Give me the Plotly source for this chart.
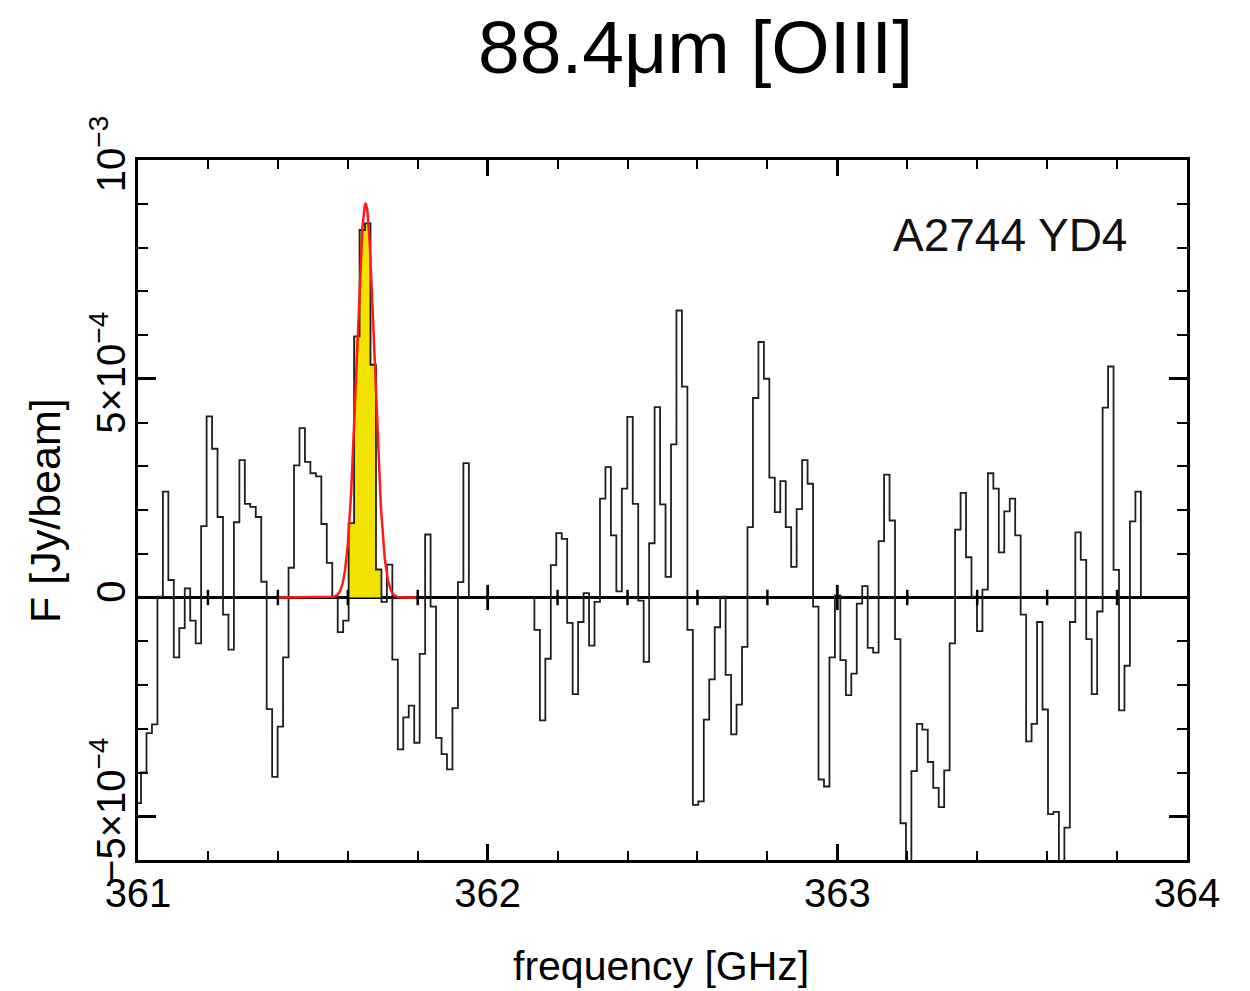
import numpy as np
import plotly.graph_objects as go

# ---------------- data (flux in units of 1e-4 Jy/beam) ----------------
chan_width = 0.015625          # GHz
spw1_first_edge = 360.99305    # left edge of first channel of window 1 (GHz)
spw1_flux = [
    -4.7, -4.0, -3.1, -2.9, 0.02, 2.42, 0.4, -1.37, -0.7, 0.21,
    -0.53, -1.05, 1.63, 4.14, 3.4, 1.84, -0.39, -1.19, 1.72, 3.14,
    2.14, 2.07, 1.84, 0.36, -2.55, -4.1, -2.95, -1.37, 0.68, 3.02,
    3.87, 3.1, 2.84, 2.77, 1.68, 0.79, 0.02, -0.79, -0.53, 1.7,
    5.97, 8.4, 8.55, 5.32, 0.64, -0.1, 0.75, -1.42, -3.47, -2.74,
    -2.47, -3.32, -1.29, 1.44, -0.21, -3.21, -3.58, -3.93, -2.53, 0.35,
    3.07,
]
spw2_first_edge = 362.13368    # left edge of first channel of window 2 (GHz)
spw2_flux = [
    -0.74, -2.81, -1.4, 0.74, 1.47, 1.34, -0.58, -2.21, -0.56, 0.1,
    -1.1, -0.1, 2.26, 2.98, 1.42, 0.14, 2.49, 4.13, 2.14, -0.07,
    -1.47, 1.24, 4.35, 2.13, 0.47, 3.5, 6.56, 4.82, -0.74, -4.74,
    -4.66, -2.79, -1.87, -0.68, 0.02, -1.77, -3.13, -2.45, -1.13, 1.61,
    4.56, 5.84, 5.0, 2.74, 1.95, 2.66, 1.61, 0.7, 2.02, 3.14,
    2.6, -0.21, -4.16, -4.32, -1.37, 0.05, -1.43, -2.23, -1.74, -0.14,
    0.26, -1.15, -1.26, 1.29, 2.81, 1.76, -0.95, -5.16, -6.5, -3.97,
    -2.89, -3.02, -3.76, -4.35, -4.79, -3.95, -1.05, 1.55, 2.39, 0.92,
    0.02, -0.77, 0.18, 2.84, 2.49, 1.03, 1.97, 2.26, 1.42, -0.39,
    -3.29, -2.89, -0.56, -2.56, -4.95, -4.9, -6.5, -5.26, -0.56, 1.49,
    0.86, -0.95, -2.21, -0.32, 4.34, 5.28, 0.63, -2.58, -1.56, 1.74,
    2.42,
]
line_first = 39   # index in spw1_flux of first channel in the shaded line
line_last = 44    # index of last shaded channel

# Gaussian fit of the line
fit_amp = 9.0      # 1e-4 Jy/beam
fit_center = 361.651
fit_sigma = 0.0255
fit_range = [361.40, 361.80]

unit = 1e-4
x_range = [361, 364]
y_range = [-6e-4, 1e-3]
x_major = [361, 362, 363, 364]
x_minor_step = 0.2
y_tickvals = [-5e-4, 0, 5e-4, 1e-3]
y_ticktext = ["\u22125\u00d710<sup>\u22124</sup>", "0", "5\u00d710<sup>\u22124</sup>", "10<sup>\u22123</sup>"]

# ---------------- helpers ----------------
def step_xy(first_edge, flux):
    n = len(flux)
    edges = first_edge + chan_width * np.arange(n + 1)
    xs = [edges[0]] + list(edges)
    ys = [0.0] + [v * unit for v in flux] + [0.0]
    return xs, ys

SANS = "Liberation Sans, Helvetica, Arial, sans-serif"

fig = go.Figure()

# yellow shaded line channels
edges1 = spw1_first_edge + chan_width * np.arange(len(spw1_flux) + 1)
fx = list(edges1[line_first:line_last + 2])
fy = [v * unit for v in spw1_flux[line_first:line_last + 1]] + [0.0]
fig.add_trace(go.Scatter(x=fx, y=fy, mode="lines", line=dict(shape="hv", width=0, color="#f2e200"),
                         fill="tozeroy", fillcolor="#f2e200", hoverinfo="skip", showlegend=False))

for first, flux in [(spw1_first_edge, spw1_flux), (spw2_first_edge, spw2_flux)]:
    xs, ys = step_xy(first, flux)
    fig.add_trace(go.Scatter(x=xs, y=ys, mode="lines", line=dict(shape="hv", width=1.8, color="#1f1f1f"),
                             showlegend=False))

# Gaussian fit
gx = np.linspace(fit_range[0], fit_range[1], 500)
gy = fit_amp * unit * np.exp(-0.5 * ((gx - fit_center) / fit_sigma) ** 2)
fig.add_trace(go.Scatter(x=gx, y=gy, mode="lines", line=dict(color="#ff1a1a", width=2.5), showlegend=False))

# ticks along the zero axis
minor_x = [v for v in np.arange(x_range[0] + x_minor_step, x_range[1] - 1e-6, x_minor_step)
           if abs(v - round(v)) > 1e-6]
major_x = [v for v in x_major if x_range[0] < v < x_range[1]]
fig.add_trace(go.Scatter(x=minor_x, y=[0] * len(minor_x), mode="markers",
                         marker=dict(symbol="line-ns", size=11, line=dict(width=2.5, color="black")),
                         showlegend=False, hoverinfo="skip"))
fig.add_trace(go.Scatter(x=major_x, y=[0] * len(major_x), mode="markers",
                         marker=dict(symbol="line-ns", size=18, line=dict(width=2.8, color="black")),
                         showlegend=False, hoverinfo="skip"))

fig.update_layout(
    width=1250, height=991,
    margin=dict(l=138, r=63, t=160, b=131),
    paper_bgcolor="white", plot_bgcolor="white",
    showlegend=False,
    xaxis=dict(range=x_range, showgrid=False, zeroline=False, showline=True, linecolor="black", linewidth=3,
               mirror="ticks", ticks="inside", ticklen=16, tickwidth=2.5, tickcolor="black",
               tickvals=x_major, ticktext=[str(v) for v in x_major],
               tickfont=dict(family=SANS, size=40, color="black"), ticklabelstandoff=-4,
               minor=dict(dtick=x_minor_step, tick0=x_range[0], ticks="inside", ticklen=9, tickwidth=2,
                          tickcolor="black")),
    yaxis=dict(range=y_range, showgrid=False, zeroline=True, zerolinecolor="black", zerolinewidth=2.6,
               showline=True, linecolor="black", linewidth=3,
               mirror="ticks", ticks="inside", ticklen=18, tickwidth=2.5, tickcolor="black",
               tickvals=y_tickvals, ticktext=y_ticktext, tickangle=-90,
               tickfont=dict(family=SANS, size=40, color="black"), ticklabelstandoff=-6,
               minor=dict(dtick=1e-4, tick0=0, ticks="inside", ticklen=10, tickwidth=2, tickcolor="black")),
    annotations=[
        dict(text="88.4\u03bcm [OIII]", xref="paper", yref="paper", x=0.531, y=1.161,
             xanchor="center", yanchor="middle",
             showarrow=False, font=dict(family=SANS, size=75, color="black")),
        dict(text="A2744 YD4", xref="paper", yref="paper", x=0.831, y=0.893,
             xanchor="center", yanchor="middle",
             showarrow=False, font=dict(family=SANS, size=46, color="#111")),
        dict(text="frequency [GHz]", xref="paper", yref="paper", x=0.4986, y=-0.151,
             xanchor="center", yanchor="middle",
             showarrow=False, font=dict(family=SANS, size=41, color="black")),
        dict(text="F [Jy/beam]", xref="paper", yref="paper", x=-0.0887, y=0.5, textangle=-90,
             xanchor="center", yanchor="middle",
             showarrow=False, font=dict(family=SANS, size=43, color="black")),
    ],
)

fig.write_html("out.html")
